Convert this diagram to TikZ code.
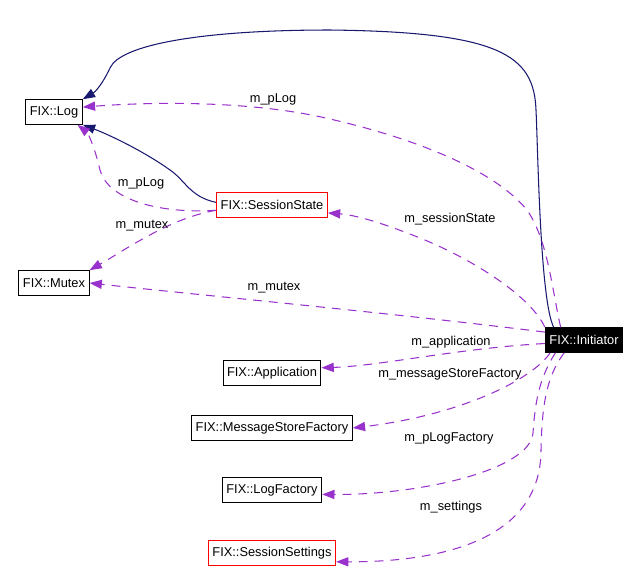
\documentclass[tikz,border=0pt]{standalone}
\usepackage{fontspec}
\setmainfont{Liberation Sans}
\usepackage{tikz}
\usetikzlibrary{arrows.meta, positioning}
\definecolor{navyedge}{RGB}{25,25,112}
\definecolor{orchid}{RGB}{153,50,204}

\begin{document}
\begin{tikzpicture}[
  x=0.02cm, y=-0.02cm,
  box/.style={rectangle, draw=black, fill=white, line width=0.6pt, minimum height=14pt, inner xsep=2.3pt, inner ysep=0pt, font=\fontsize{7.3}{8.8}\selectfont},
  redbox/.style={box, draw=red},
  focus/.style={box, fill=black, text=white},
  lbl/.style={inner sep=0pt, font=\fontsize{7.3}{8.8}\selectfont},
  inherit/.style={-{Triangle[length=7pt, width=5.2pt]}, line width=0.6pt, navyedge},
  member/.style={-{Triangle[length=7pt, width=5.2pt]}, line width=0.6pt, orchid, dash pattern=on 5pt off 4pt}
]
  \useasboundingbox (0,0) rectangle (640,583);

  \node[box] (log) at (54,112) {FIX::Log};
  \node[box] (mutex) at (54,283) {FIX::Mutex};
  \node[redbox] (state) at (272,205) {FIX::SessionState};
  \node[focus] (initiator) at (584,340) {FIX::Initiator};
  \node[box] (application) at (272,373) {FIX::Application};
  \node[box] (storefactory) at (272,428) {FIX::MessageStoreFactory};
  \node[box] (logfactory) at (272,490) {FIX::LogFactory};
  \node[redbox] (settings) at (272,553) {FIX::SessionSettings};

  % base classes
  \draw[inherit] ([xshift=5pt]initiator.north west) .. controls (540,300) and (538,150) .. (536,110)
    .. controls (534,55) and (500,32) .. (330,30) .. controls (200,30) and (120,45) .. (110,68)
    .. controls (102,85) and (95,92) .. (log.north east);
  \draw[inherit] ([yshift=1.5pt]state.west) .. controls (190,197) and (185,180) .. (170,170)
    .. controls (145,152) and (110,135) .. (log.south east);

  % members
  \draw[member] ([xshift=9pt]initiator.north west) .. controls (552,290) and (548,240) .. (527,210)
    .. controls (490,165) and (400,135) .. (330,119) .. controls (250,100) and (150,102) .. ([yshift=2.8pt]log.east);
  \draw[member] ([yshift=-3pt]state.west) .. controls (160,214) and (108,200) .. (100,170)
    .. controls (95,148) and (88,133) .. ([xshift=-3pt]log.south east);
  \draw[member] ([yshift=-3pt]state.west) .. controls (170,218) and (125,250) .. (mutex.north east);
  \draw[member] (initiator.north west) .. controls (530,295) and (470,258) .. (420,238)
    .. controls (380,222) and (355,215) .. ([yshift=-4.5pt]state.east);
  \draw[member] ([yshift=4.5pt]initiator.west) .. controls (400,314) and (200,295) .. (mutex.east);
  \draw[member] ([yshift=-2pt]initiator.west) .. controls (460,348) and (380,366) .. ([yshift=3pt]application.east);
  \draw[member] ([xshift=3pt]initiator.south west) .. controls (532,380) and (460,415) .. (storefactory.east);
  \draw[member] ([xshift=6pt]initiator.south west) .. controls (538,380) and (535,405) .. (533,433)
    .. controls (530,470) and (420,495) .. ([yshift=-2.5pt]logfactory.east);
  \draw[member] ([xshift=11pt]initiator.south west) .. controls (545,378) and (542,410) .. (541,450)
    .. controls (541,545) and (430,562) .. ([yshift=-5pt]settings.east);

  \node[lbl] (lblplog) at (273,99) {m\_pLog};
  \node[lbl] (lblstateplog) at (141,183) {m\_pLog};
  \node[lbl] (lblstatemutex) at (142,226) {m\_mutex};
  \node[lbl] (lblmutex) at (274,288) {m\_mutex};
  \node[lbl] (lblstate) at (450,219) {m\_sessionState};
  \node[lbl] (lblapp) at (451,342) {m\_application};
  \node[lbl] (lblstore) at (450,374) {m\_messageStoreFactory};
  \node[lbl] (lbllogfactory) at (449,438) {m\_pLogFactory};
  \node[lbl] (lblsettings) at (451,507) {m\_settings};
\end{tikzpicture}
\end{document}
